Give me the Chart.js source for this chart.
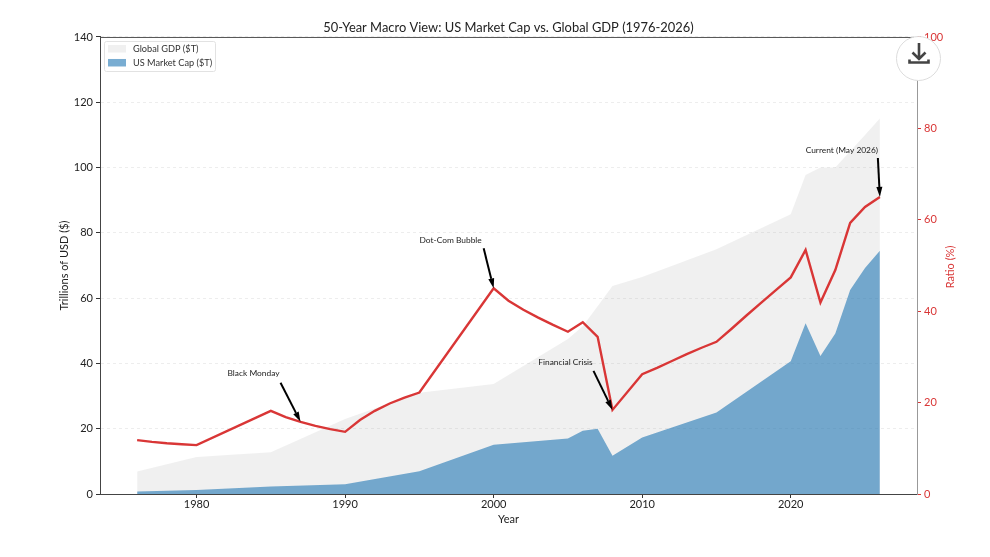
<!DOCTYPE html>
<html>
<head>
<meta charset="utf-8">
<style>
  html, body { margin: 0; padding: 0; background: #fff; }
  #wrap { position: relative; width: 990px; height: 557px; }
  #myChart { display: block; }
  #save { position: absolute; left: 896px; top: 36px; width: 45px; height: 45px; box-sizing: border-box;
          border: 1px solid #dcdcdc; border-radius: 50%; background: #fff; }
</style>
</head>
<body>
<div id="wrap">
  <canvas id="myChart" width="990" height="557"></canvas>
  <div id="save">
    <svg width="43" height="43" viewBox="0 0 43 43">
      <path d="M22 6 V21 M15.5 15.5 L22 22 L28.5 15.5 M12.5 22.5 V25.5 H31.5 V22.5" fill="none" stroke="#444" stroke-width="2.6"/>
    </svg>
  </div>
</div>
<script src="https://cdn.jsdelivr.net/npm/chart.js@4"></script>
<script>
var FONT = 'Lato';

var areaYears = [1976, 1980, 1985, 1990, 1995, 2000, 2005, 2006, 2007, 2008, 2010, 2015, 2020, 2021, 2022, 2023, 2024, 2025, 2026];
var globalGdp = [6.9, 11.3, 12.8, 23, 31, 33.7, 47.5, 51.4, 57.5, 63.7, 66.5, 75, 85.7, 97.7, 100, 100, 105, 110, 115];
var usMarketCap = [0.8, 1.2, 2.3, 3, 7, 15.1, 17, 19.4, 20, 11.7, 17.3, 25, 40.7, 52.3, 42.3, 49.2, 62.5, 69.2, 74.5];

var ratioYears = [1976, 1977, 1978, 1979, 1980, 1985, 1986, 1987, 1988, 1989, 1990, 1991, 1992, 1993, 1994, 1995, 2000, 2001, 2002, 2003, 2004, 2005, 2006, 2007, 2008, 2010, 2011, 2012, 2013, 2014, 2015, 2016, 2017, 2018, 2019, 2020, 2021, 2022, 2023, 2024, 2025, 2026];
var ratioPct = [11.8, 11.4, 11.1, 10.9, 10.7, 18.2, 16.8, 15.8, 14.9, 14.2, 13.6, 16.2, 18.2, 19.8, 21.1, 22.2, 45, 42.3, 40.3, 38.6, 37, 35.5, 37.6, 34.4, 18.4, 26.2, 27.6, 29.1, 30.6, 32, 33.3, 36.1, 39, 41.8, 44.6, 47.4, 53.4, 41.9, 49, 59.3, 62.8, 65];

var xTicks = [1980, 1990, 2000, 2010, 2020];
var yTicks = [0, 20, 40, 60, 80, 100, 120, 140];
var ratioTicks = [0, 20, 40, 60, 80, 100];

var noteLabels = ['Black Monday', 'Dot-Com Bubble', 'Financial Crisis', 'Current (May 2026)'];
var noteYears = [1987, 2000, 2008, 2026];
var noteRatios = [15.8, 45, 18.4, 65];

// pixel offsets from the arrow tip: label centre, arrow tail
var noteOffsets = [
  { tx: -47, ty: -49, ax: -20, ay: -39 },
  { tx: -43, ty: -48, ax: -10, ay: -40 },
  { tx: -47, ty: -48, ax: -19, ay: -39 },
  { tx: -38, ty: -47, ax: -2, ay: -39 }
];

function points(xs, ys) {
  return xs.map(function (x, i) { return { x: x, y: ys[i] }; });
}

function fixedTicks(list) {
  return function (scale) {
    scale.ticks = list.map(function (v) { return { value: v }; });
  };
}

var extras = {
  id: 'extras',
  beforeDatasetsDraw: function (chart) {
    var a = chart.chartArea, c = chart.ctx;
    c.save();
    c.strokeStyle = '#555';
    c.lineWidth = 1;
    c.beginPath();
    c.moveTo(a.left, a.top + 0.5);
    c.lineTo(a.right, a.top + 0.5);
    c.stroke();
    c.restore();
  },
  afterDraw: function (chart) {
    var c = chart.ctx, a = chart.chartArea;
    var xs = chart.scales.x, ys = chart.scales.y1;
    c.save();

    // legend inside the axes, top left
    c.fillStyle = 'rgba(255, 255, 255, 0.8)';
    c.strokeStyle = '#e2e2e2';
    c.lineWidth = 1;
    c.beginPath();
    c.roundRect(104.5, 41.5, 111, 30, 2);
    c.fill();
    c.stroke();
    [0, 1].forEach(function (i) {
      var ds = chart.data.datasets[i];
      var rowY = a.top + 8 + i * 14;
      c.fillStyle = ds.backgroundColor;
      c.fillRect(108, rowY, 18, 7.5);
      c.fillStyle = '#333';
      c.font = '9.2px ' + FONT;
      c.textAlign = 'left';
      c.textBaseline = 'middle';
      c.fillText(ds.label, 133, rowY + 4);
    });

    // right axis title reads bottom to top
    c.save();
    c.translate(950, 267);
    c.rotate(-Math.PI / 2);
    c.fillStyle = '#d93636';
    c.font = '11px ' + FONT;
    c.textAlign = 'center';
    c.textBaseline = 'middle';
    c.fillText('Ratio (%)', 0, 0);
    c.restore();

    // annotations
    noteLabels.forEach(function (label, i) {
      var px = xs.getPixelForValue(noteYears[i]);
      var py = ys.getPixelForValue(noteRatios[i]);
      var o = noteOffsets[i];
      c.fillStyle = '#222';
      c.font = '8.4px ' + FONT;
      c.textAlign = 'center';
      c.textBaseline = 'middle';
      c.fillText(label, px + o.tx, py + o.ty);

      var ang = Math.atan2(-o.ay, -o.ax);
      var baseX = px - Math.cos(ang) * 10, baseY = py - Math.sin(ang) * 10;
      c.strokeStyle = '#000';
      c.lineWidth = 2;
      c.beginPath();
      c.moveTo(px + o.ax, py + o.ay);
      c.lineTo(baseX, baseY);
      c.stroke();
      c.fillStyle = '#000';
      c.beginPath();
      c.moveTo(px, py);
      c.lineTo(baseX - Math.sin(ang) * 3, baseY + Math.cos(ang) * 3);
      c.lineTo(baseX + Math.sin(ang) * 3, baseY - Math.cos(ang) * 3);
      c.closePath();
      c.fill();
    });
    c.restore();
  }
};

Chart.defaults.font.family = FONT;
Chart.defaults.font.size = 11;
Chart.defaults.color = '#222';

new Chart(document.getElementById('myChart'), {
  type: 'line',
  data: {
    datasets: [
      {
        label: 'Global GDP ($T)',
        data: points(areaYears, globalGdp),
        yAxisID: 'y',
        fill: 'origin',
        backgroundColor: 'rgba(128, 128, 128, 0.12)',
        borderWidth: 0,
        pointRadius: 0,
        order: 3
      },
      {
        label: 'US Market Cap ($T)',
        data: points(areaYears, usMarketCap),
        yAxisID: 'y',
        fill: 'origin',
        backgroundColor: 'rgba(31, 119, 180, 0.6)',
        borderWidth: 0,
        pointRadius: 0,
        order: 2
      },
      {
        label: 'Ratio (%)',
        data: points(ratioYears, ratioPct),
        yAxisID: 'y1',
        fill: false,
        borderColor: '#d93636',
        borderWidth: 2.4,
        pointRadius: 0,
        order: 1
      }
    ]
  },
  options: {
    responsive: false,
    animation: false,
    devicePixelRatio: 1,
    layout: { padding: 0 },
    plugins: {
      title: {
        display: true,
        fullSize: false,
        text: '50-Year Macro View: US Market Cap vs. Global GDP (1976-2026)',
        font: { size: 12.9, weight: 'normal', family: FONT },
        color: '#222',
        padding: { top: 20, bottom: 1.5 }
      },
      legend: { display: false },
      tooltip: { enabled: false }
    },
    scales: {
      x: {
        type: 'linear',
        min: 1973.5,
        max: 2028.5,
        afterBuildTicks: fixedTicks(xTicks),
        afterFit: function (s) { s.height = 63; },
        grid: { drawOnChartArea: false, tickLength: 4, tickColor: '#333' },
        border: { color: '#444' },
        ticks: { padding: 0, maxRotation: 0, callback: function (v) { return String(v); } },
        title: { display: true, text: 'Year', color: '#222', padding: { top: 0, bottom: 31 } }
      },
      y: {
        position: 'left',
        min: 0,
        max: 140,
        afterBuildTicks: fixedTicks(yTicks),
        afterFit: function (s) { s.width = 100; },
        grid: { color: 'rgba(0, 0, 0, 0.07)', tickLength: 4, tickColor: '#333', tickBorderDash: [] },
        border: { color: '#444', dash: [3, 3] },
        ticks: { padding: 3 },
        title: { display: true, text: 'Trillions of USD ($)', color: '#222', padding: { top: 58, bottom: 0 } }
      },
      y1: {
        position: 'right',
        min: 0,
        max: 100,
        afterBuildTicks: fixedTicks(ratioTicks),
        afterFit: function (s) { s.width = 73; },
        grid: { drawOnChartArea: false, tickLength: 4, tickColor: '#d93636' },
        border: { color: '#999' },
        ticks: { color: '#d93636', padding: 3 }
      }
    }
  },
  plugins: [extras]
});
</script>
</body>
</html>
